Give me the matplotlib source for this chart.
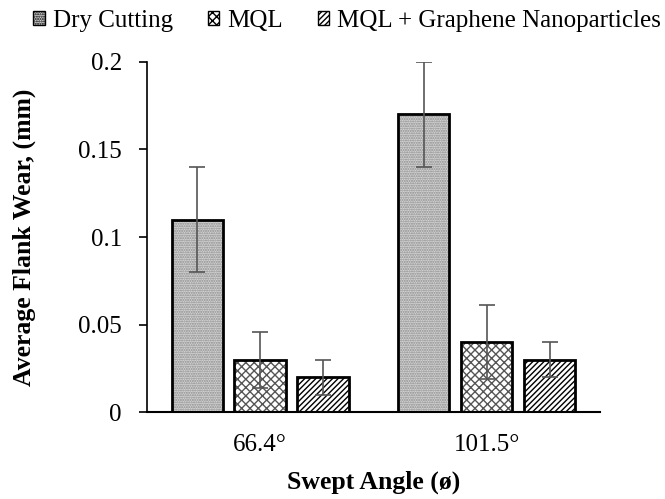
import numpy as np
import matplotlib
matplotlib.use('Agg')
from matplotlib import pyplot as plt
from matplotlib.patches import Patch
from matplotlib.ticker import FuncFormatter

# data
angles = ['66.4°', '101.5°']
series = ['Dry Cutting', 'MQL', 'MQL + Graphene Nanoparticles']
dry = [0.11, 0.17]
dry_err = [0.03, 0.03]
mql = [0.03, 0.04]
mql_err = [0.016, 0.021]
graphene = [0.02, 0.03]
graphene_err = [0.01, 0.01]

plt.rcParams['font.family'] = ['Liberation Serif', 'DejaVu Serif']
plt.rcParams['hatch.linewidth'] = 1.0

fig = plt.figure(figsize=(6.65, 4.99), dpi=100)
ax = fig.add_axes([0.221, 0.174, 0.681, 0.702])

x = np.arange(len(angles))
width = 0.227
offset = 0.278

styles = [
    # face, hatch, hatch colour
    ('#d4d4d4', '.......', '#8a8a8a'),
    ('white', 'xxxx', '#555555'),
    ('white', '//////', 'black'),
]
values = [dry, mql, graphene]
errors = [dry_err, mql_err, graphene_err]

handles = []
for i, (vals, errs, (face, hatch, hcol)) in enumerate(zip(values, errors, styles)):
    pos = x + (i - 1) * offset
    # fill + hatch (hatch takes the edge colour), then the black outline on top
    ax.bar(pos, vals, width, color=face, edgecolor=hcol, hatch=hatch, linewidth=0, zorder=2)
    ax.bar(pos, vals, width, fill=False, edgecolor='black', linewidth=2.0, zorder=3)
    ax.errorbar(pos, vals, yerr=errs, fmt='none', ecolor='#555555', elinewidth=1.2,
                capsize=6, capthick=1.2, zorder=4)
    handles.append(Patch(facecolor=face, edgecolor='black', hatch=hatch, linewidth=1.0))

ax.set_xlim(-0.5, 1.5)
ax.set_ylim(0, 0.2)
ax.set_yticks([0, 0.05, 0.1, 0.15, 0.2])
ax.yaxis.set_major_formatter(FuncFormatter(lambda v, p: '%g' % round(v, 3)))
ax.set_xticks(x)
ax.set_xticklabels(angles)
ax.tick_params(axis='x', length=0, pad=16, labelsize=18)
ax.tick_params(axis='y', length=6, width=1.2, pad=12, labelsize=18)

for side in ['top', 'right']:
    ax.spines[side].set_visible(False)
ax.spines['left'].set_linewidth(1.2)
ax.spines['bottom'].set_linewidth(1.5)

ax.set_ylabel('Average Flank Wear, (mm)', fontsize=18.5, fontweight='bold')
ax.yaxis.set_label_coords(-0.245, 0.5)
ax.set_xlabel('Swept Angle (ø)', fontsize=18.5, fontweight='bold', labelpad=10)

fig.legend(handles, series, loc='upper center', bbox_to_anchor=(0.522, 1.025), ncol=3,
           frameon=False, fontsize=18, handlelength=0.45, handleheight=0.45,
           handletextpad=0.32, columnspacing=1.4)

fig.savefig('out.png', dpi=100)
